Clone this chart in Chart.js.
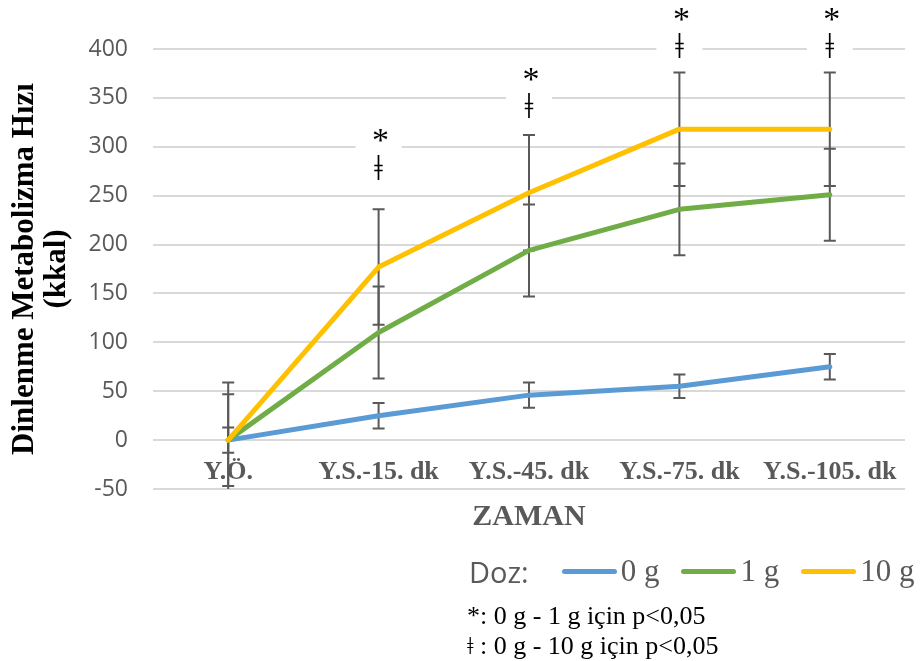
<!DOCTYPE html>
<html lang="tr">
<head>
<meta charset="utf-8">
<title>Dinlenme Metabolizma Hızı</title>
<script src="https://cdn.jsdelivr.net/npm/chart.js"></script>
<style>
  body { margin: 0; background: #fff; }
  #wrap { position: relative; width: 923px; height: 661px; }
  #legend { position: absolute; left: 469px; top: 551px; height: 40px; display: flex; align-items: center; white-space: nowrap; }
  #legend .doz { font: 29px "Open Sans", sans-serif; color: #595959; margin-right: 33px; }
  #legend .swatch { display: inline-block; width: 55px; height: 5px; border-radius: 3px; margin-right: 4px; }
  #legend .lbl { font: 31px "Liberation Serif", serif; color: #595959; margin-right: 22px; }
  #notes { position: absolute; left: 467px; top: 601px; font: 26px "Liberation Serif", serif; color: #000; line-height: 30px; white-space: nowrap; }
</style>
</head>
<body>
<div id="wrap">
  <canvas id="rmrChart" width="923" height="661"></canvas>
  <div id="legend"></div>
  <div id="notes"></div>
</div>
<script>
const categories = ['Y.Ö.', 'Y.S.-15. dk', 'Y.S.-45. dk', 'Y.S.-75. dk', 'Y.S.-105. dk'];
const doseLabels = ['0 g', '1 g', '10 g'];
const doseColors = ['#5B9BD5', '#70AD47', '#FFC000'];

const dose0 = [0, 25, 46, 55, 75];
const dose0Sd = [13, 13, 13, 12, 13];
const dose1 = [0, 110, 194, 236, 251];
const dose1Sd = [47, 47, 47, 47, 47];
const dose10 = [0, 177, 253, 318, 318];
const dose10Sd = [59, 59, 59, 58, 58];

// significance marks above each time point (value level of the lower mark)
const starMarks = ['', '*', '*', '*', '*'];
const daggerMarks = ['', 'ǂ', 'ǂ', 'ǂ', 'ǂ'];
const markLevel = [null, 276, 339, 400, 400];

const yMin = -50, yMax = 400, yStep = 50;
const yTitle = ['Dinlenme Metabolizma Hızı', '(kkal)'];
const xTitle = 'ZAMAN';
const legendTitle = 'Doz:';
const notes = ['*: 0 g - 1 g için p<0,05', 'ǂ : 0 g - 10 g için p<0,05'];

const errorBars = {
    id: 'errorBars',
    beforeDatasetsDraw(chart) {
        const { ctx, chartArea, scales: { x, y } } = chart;
        ctx.save();
        ctx.beginPath();
        ctx.rect(chartArea.left, chartArea.top, chartArea.right - chartArea.left, chartArea.bottom - chartArea.top);
        ctx.clip();
        ctx.strokeStyle = '#595959';
        ctx.lineWidth = 2;
        chart.data.datasets.forEach(ds => {
            ds.data.forEach((v, i) => {
                const px = x.getPixelForValue(i);
                const top = y.getPixelForValue(v + ds.sd[i]);
                const bot = y.getPixelForValue(v - ds.sd[i]);
                ctx.beginPath();
                ctx.moveTo(px, top); ctx.lineTo(px, bot);
                ctx.moveTo(px - 6, top); ctx.lineTo(px + 6, top);
                ctx.moveTo(px - 6, bot); ctx.lineTo(px + 6, bot);
                ctx.stroke();
            });
        });
        ctx.restore();
    }
};

const sigMarks = {
    id: 'sigMarks',
    afterDraw(chart) {
        const { ctx, scales: { x, y } } = chart;
        ctx.save();
        ctx.textAlign = 'center';
        ctx.textBaseline = 'middle';
        markLevel.forEach((lv, i) => {
            if (lv === null) return;
            const px = x.getPixelForValue(i);
            const py = y.getPixelForValue(lv);
            ctx.fillStyle = '#fff';
            ctx.fillRect(px - 23, py - 47, 46, 62);
            ctx.fillStyle = '#000';
            ctx.font = '36px "Liberation Serif", serif';
            ctx.fillText(daggerMarks[i], px, py);
            ctx.font = '34px "Liberation Serif", serif';
            ctx.fillText(starMarks[i], px + 2, py - 28);
        });
        ctx.restore();
    }
};

const seriesValues = [dose0, dose1, dose10];
const seriesSd = [dose0Sd, dose1Sd, dose10Sd];

const datasets = seriesValues.map((vals, k) => ({
    label: doseLabels[k],
    data: vals,
    sd: seriesSd[k],
    borderColor: doseColors[k],
    backgroundColor: doseColors[k],
    borderWidth: 5,
    borderCapStyle: 'round',
    borderJoinStyle: 'round',
    tension: 0,
    pointRadius: 0,
    fill: false,
    order: 3 - k
}));

const ctx = document.getElementById('rmrChart').getContext('2d');
const rmrChart = new Chart(ctx, {
    type: 'line',
    data: { labels: categories, datasets: datasets },
    options: {
        responsive: false,
        animation: false,
        devicePixelRatio: 1,
        layout: { padding: { top: 49, right: 18, bottom: 172, left: 0 } },
        plugins: {
            legend: { display: false },
            tooltip: { enabled: false }
        },
        scales: {
            x: {
                position: { y: 0 },
                offset: true,
                grid: { display: false, drawTicks: false },
                border: { display: false },
                ticks: {
                    color: '#595959',
                    padding: 17,
                    maxRotation: 0,
                    autoSkip: false,
                    font: { family: '"Liberation Serif", serif', size: 26, weight: 'bold' }
                },
                title: {
                    display: true,
                    text: xTitle,
                    color: '#595959',
                    padding: { top: 7, bottom: 5 },
                    font: { family: '"Liberation Serif", serif', size: 30, weight: 'bold', lineHeight: 1.2 }
                },
                afterFit: (scale) => { scale.height = 100; }
            },
            y: {
                min: yMin,
                max: yMax,
                grid: { color: '#D9D9D9', lineWidth: 2, drawTicks: false },
                border: { display: false },
                ticks: {
                    stepSize: yStep,
                    color: '#595959',
                    padding: 25,
                    font: { family: '"Open Sans", sans-serif', size: 23 }
                },
                title: {
                    display: true,
                    text: yTitle,
                    color: '#000',
                    padding: { top: 9, bottom: 0 },
                    font: { family: '"Liberation Serif", serif', size: 31, weight: 'bold', lineHeight: 1.03 }
                },
                afterFit: (scale) => { scale.width = 153; }
            }
        }
    },
    plugins: [errorBars, sigMarks]
});

const legendEl = document.getElementById('legend');
const dozEl = document.createElement('span');
dozEl.className = 'doz';
dozEl.textContent = legendTitle;
legendEl.appendChild(dozEl);
doseLabels.forEach((lbl, k) => {
    const sw = document.createElement('span');
    sw.className = 'swatch';
    sw.style.background = doseColors[k];
    legendEl.appendChild(sw);
    const t = document.createElement('span');
    t.className = 'lbl';
    t.textContent = lbl;
    legendEl.appendChild(t);
});

const notesEl = document.getElementById('notes');
notes.forEach(n => {
    const d = document.createElement('div');
    d.textContent = n;
    notesEl.appendChild(d);
});
</script>
</body>
</html>
